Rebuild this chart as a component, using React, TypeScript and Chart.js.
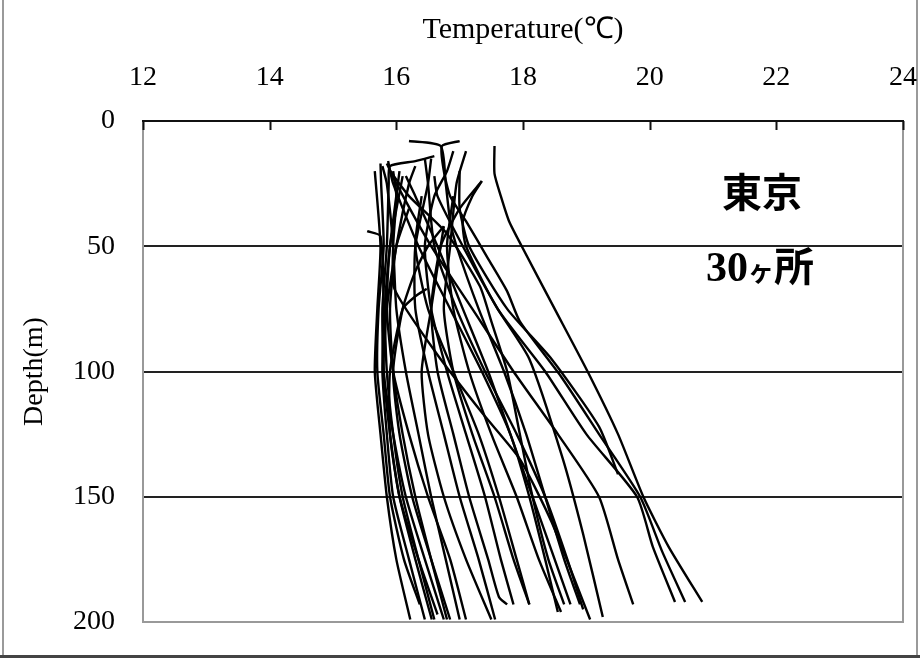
import React, { useEffect, useRef } from "react";
import { Chart, registerables } from "chart.js";

Chart.register(...registerables);

// Axis ticks
const xTicks = [12, 14, 16, 18, 20, 22, 24];
const yTicks = [0, 50, 100, 150, 200];

// Each profile: [depth (m), temperature (°C)]
const P01: [number, number][] = [[10, 17.55], [21, 17.55], [30, 17.65], [40, 17.78], [50, 17.98], [75, 18.5], [100, 19.02], [125, 19.5], [150, 19.9], [170, 20.3], [192, 20.83]];
const P02: [number, number][] = [[8, 17.0], [10, 16.72], [20, 16.75], [30, 16.85], [40, 17.1], [55, 17.45], [68, 17.75], [80, 17.95], [102, 18.6], [125, 19.2], [150, 19.85], [172, 20.2], [192, 20.56]];
const P03: [number, number][] = [[24, 17.35], [30, 17.2], [40, 17.05], [50, 17.1], [75, 17.6], [100, 18.35], [125, 19.0], [150, 19.8], [170, 20.05], [192, 20.4]];
const P04: [number, number][] = [[20, 17.0], [35, 17.0], [50, 17.15], [75, 17.75], [95, 18.45], [122, 19.2], [141, 19.5]];
const P05: [number, number][] = [[17, 15.85], [25, 16.0], [50, 16.55], [75, 17.2], [100, 17.85], [125, 18.55], [150, 19.2], [175, 19.5], [193, 19.74]];
const P06: [number, number][] = [[22, 16.6], [30, 16.65], [50, 17.05], [75, 17.6], [95, 18.1], [135, 18.63], [165, 18.95], [198, 19.26]];
const P07: [number, number][] = [[20, 15.95], [30, 16.0], [50, 15.95], [67, 15.97], [93, 16.64], [117, 17.37], [135, 17.95], [160, 18.45], [199, 19.06]];
const P08: [number, number][] = [[8, 16.2], [10, 16.7], [25, 16.78], [40, 16.85], [50, 16.95], [75, 17.3], [100, 17.7], [125, 18.05], [150, 18.35], [175, 18.65], [193, 18.9]];
const P09: [number, number][] = [[20, 15.9], [30, 16.2], [45, 16.8], [66, 17.32], [80, 17.5], [100, 17.75], [125, 17.95], [150, 18.15], [175, 18.4], [193, 18.65]];
const P10: [number, number][] = [[16, 15.87], [25, 15.95], [50, 16.35], [75, 16.85], [100, 17.35], [125, 17.8], [150, 18.1], [175, 18.35], [196, 18.55]];
const P11: [number, number][] = [[30, 16.4], [50, 16.3], [75, 16.5], [100, 16.9], [125, 17.3], [150, 17.62], [175, 17.9], [193, 18.1]];
const P12: [number, number][] = [[12, 16.9], [20, 16.8], [30, 16.6], [50, 16.45], [75, 16.55], [100, 16.8], [125, 17.1], [150, 17.4], [175, 17.65], [193, 17.85]];
const P13: [number, number][] = [[24, 17.35], [35, 17.0], [50, 16.7], [75, 16.55], [100, 16.65], [125, 16.9], [150, 17.15], [175, 17.45], [190, 17.62], [193, 17.75]];
const P14: [number, number][] = [[15, 16.55], [25, 16.5], [50, 16.3], [75, 16.3], [100, 16.5], [125, 16.75], [150, 17.0], [175, 17.3], [199, 17.56]];
const P15: [number, number][] = [[18, 15.78], [25, 15.85], [50, 15.95], [75, 16.0], [100, 16.15], [125, 16.35], [150, 16.55], [175, 16.78], [199, 17.0]];
const P16: [number, number][] = [[42, 16.75], [50, 16.5], [60, 16.3], [75, 16.1], [100, 15.95], [125, 16.05], [150, 16.25], [175, 16.55], [199, 16.85]];
const P17: [number, number][] = [[18, 16.3], [25, 16.2], [50, 16.0], [75, 15.85], [100, 15.8], [125, 15.95], [150, 16.15], [175, 16.45], [199, 16.75]];
const P18: [number, number][] = [[67, 16.48], [70, 16.3], [75, 16.1], [100, 15.9], [125, 15.9], [150, 16.05], [175, 16.35], [197, 16.65]];
const P19: [number, number][] = [[14, 16.6], [16, 16.3], [18, 15.9], [25, 15.88], [50, 15.85], [75, 15.78], [100, 15.8], [125, 15.9], [150, 16.05], [175, 16.3], [199, 16.56]];
const P20: [number, number][] = [[44, 15.54], [46, 15.75], [75, 15.8], [100, 15.78], [125, 15.85], [150, 15.95], [175, 16.2], [199, 16.45]];
const P21: [number, number][] = [[17, 15.75], [25, 15.76], [50, 15.8], [75, 15.72], [100, 15.7], [125, 15.8], [150, 15.9], [175, 16.12], [193, 16.37]];
const P22: [number, number][] = [[20, 15.66], [50, 15.75], [75, 15.7], [100, 15.66], [125, 15.75], [150, 15.85], [175, 16.0], [199, 16.22]];
const P23: [number, number][] = [[22, 16.1], [50, 15.9], [75, 15.85], [100, 15.95], [125, 16.2], [150, 16.5], [175, 16.85], [199, 17.1]];
const P24: [number, number][] = [[30, 16.9], [50, 16.8], [75, 16.9], [100, 17.15], [125, 17.5], [150, 17.9], [175, 18.25], [196, 18.6]];
const P25: [number, number][] = [[15, 16.45], [25, 16.5], [50, 16.6], [75, 16.95], [100, 17.4], [125, 17.9], [150, 18.35], [175, 18.7], [195, 18.95]];
const P26: [number, number][] = [[20, 16.05], [50, 15.9], [75, 15.82], [100, 15.85], [125, 15.95], [150, 16.1], [175, 16.35], [199, 16.6]];
const P27: [number, number][] = [[35, 16.2], [50, 16.0], [75, 15.9], [100, 15.95], [125, 16.1], [150, 16.3], [175, 16.55], [199, 16.8]];
const P28: [number, number][] = [[12, 17.1], [25, 16.95], [50, 16.85], [75, 16.75], [100, 16.9], [125, 17.2], [150, 17.55], [175, 17.85], [193, 18.1]];
const P29: [number, number][] = [[22, 16.15], [30, 16.3], [50, 16.65], [75, 17.05], [100, 17.45], [125, 17.8], [150, 18.15], [175, 18.5], [193, 18.75]];
const P30: [number, number][] = [[42, 16.75], [50, 16.7], [75, 16.55], [100, 16.4], [125, 16.5], [150, 16.75], [175, 17.1], [199, 17.5]];

const profiles = [P01, P02, P03, P04, P05, P06, P07, P08, P09, P10, P11, P12, P13, P14, P15, P16, P17, P18, P19, P20, P21, P22, P23, P24, P25, P26, P27, P28, P29, P30];

const SERIF = '"Liberation Serif", "Times New Roman", serif';

export default function App() {
  const ref = useRef<HTMLCanvasElement>(null);

  useEffect(() => {
    const frame = {
      id: "frame",
      beforeDraw(chart: any) {
        const { ctx, width, height } = chart;
        ctx.save();
        ctx.fillStyle = "#fff";
        ctx.fillRect(0, 0, width, height);
        ctx.strokeStyle = "#9a9a9a";
        ctx.lineWidth = 2;
        ctx.beginPath();
        ctx.moveTo(3, 0);
        ctx.lineTo(3, 656);
        ctx.moveTo(917, 0);
        ctx.lineTo(917, 656);
        ctx.stroke();
        ctx.strokeStyle = "#444";
        ctx.lineWidth = 3;
        ctx.beginPath();
        ctx.moveTo(0, 656.5);
        ctx.lineTo(920, 656.5);
        ctx.stroke();
        ctx.restore();
      },
      beforeDatasetsDraw(chart: any) {
        const { ctx, chartArea, scales } = chart;
        const { left, right, top, bottom } = chartArea;
        ctx.save();
        ctx.strokeStyle = "#999";
        ctx.lineWidth = 2;
        ctx.beginPath();
        ctx.moveTo(left, top);
        ctx.lineTo(left, bottom);
        ctx.lineTo(right, bottom);
        ctx.lineTo(right, top);
        ctx.stroke();
        ctx.strokeStyle = "#111";
        ctx.lineWidth = 2;
        ctx.beginPath();
        ctx.moveTo(left - 1, top);
        ctx.lineTo(right + 1, top);
        for (const v of xTicks) {
          const px = Math.round(scales.x.getPixelForValue(v)) + 0.5;
          ctx.moveTo(px, top);
          ctx.lineTo(px, top + 9);
        }
        ctx.stroke();
        ctx.restore();
      },
    };

    const chart = new Chart(ref.current!, {
      type: "scatter",
      data: {
        datasets: profiles.map((p, i) => ({
          label: `P${i + 1}`,
          data: p.map(([d, t]) => ({ x: t, y: d })),
          showLine: true,
          borderColor: "#000",
          backgroundColor: "#000",
          borderWidth: 2.4,
          pointRadius: 0,
          tension: 0.2,
        })),
      },
      options: {
        responsive: false,
        animation: false,
        layout: { padding: { left: 0, right: 17, top: 0, bottom: 37 } },
        plugins: {
          legend: { display: false },
          tooltip: { enabled: false },
        },
        scales: {
          x: {
            type: "linear",
            position: "top",
            min: 12,
            max: 24,
            afterBuildTicks(scale: any) {
              scale.ticks = xTicks.map((v) => ({ value: v }));
            },
            ticks: {
              color: "#000",
              font: { family: SERIF, size: 28 },
              padding: 27,
              maxRotation: 0,
              autoSkip: false,
            },
            grid: { display: false, drawTicks: false },
            border: { display: false },
            title: {
              display: true,
              text: "Temperature(℃)",
              color: "#000",
              font: { family: SERIF, size: 30 },
              padding: { top: 12, bottom: 0 },
            },
            afterFit(scale: any) {
              scale.height = 121;
              scale.paddingLeft = 0;
              scale.paddingRight = 0;
            },
          },
          y: {
            type: "linear",
            reverse: true,
            min: 0,
            max: 200,
            afterBuildTicks(scale: any) {
              scale.ticks = yTicks.map((v) => ({ value: v }));
            },
            ticks: {
              color: "#000",
              font: { family: SERIF, size: 28 },
              padding: 28,
              autoSkip: false,
            },
            grid: {
              color: (c: any) =>
                c.tick && c.tick.value > 0 && c.tick.value < 200 ? "#222" : "rgba(0,0,0,0)",
              lineWidth: 2,
              drawTicks: false,
            },
            border: { display: false },
            title: {
              display: true,
              text: "Depth(m)",
              color: "#000",
              font: { family: SERIF, size: 28 },
              padding: { top: 18, bottom: 0 },
            },
            afterFit(scale: any) {
              scale.width = 143;
              scale.paddingTop = 0;
              scale.paddingBottom = 0;
            },
          },
        },
      },
      plugins: [frame],
    } as any);

    return () => chart.destroy();
  }, []);

  const cjk = '"Noto Sans CJK JP", "Noto Sans CJK SC", sans-serif';
  return (
    <div style={{ position: "absolute", left: 0, top: 0, width: 920, height: 659, background: "#fff" }}>
      <canvas ref={ref} width={920} height={659} style={{ display: "block" }} />
      <div
        style={{
          position: "absolute",
          left: 660,
          width: 204,
          top: 162,
          textAlign: "center",
          fontFamily: cjk,
          fontWeight: 700,
          fontSize: 40,
          lineHeight: "56px",
          color: "#000",
        }}
      >
        東京
      </div>
      <div
        style={{
          position: "absolute",
          left: 660,
          width: 200,
          top: 236,
          textAlign: "center",
          fontWeight: 700,
          fontSize: 40,
          lineHeight: "56px",
          color: "#000",
          whiteSpace: "nowrap",
        }}
      >
        <span style={{ fontFamily: SERIF, fontSize: 42 }}>30</span>
        <span style={{ fontFamily: cjk, fontSize: 26 }}>ヶ</span>
        <span style={{ fontFamily: cjk }}>所</span>
      </div>
    </div>
  );
}
